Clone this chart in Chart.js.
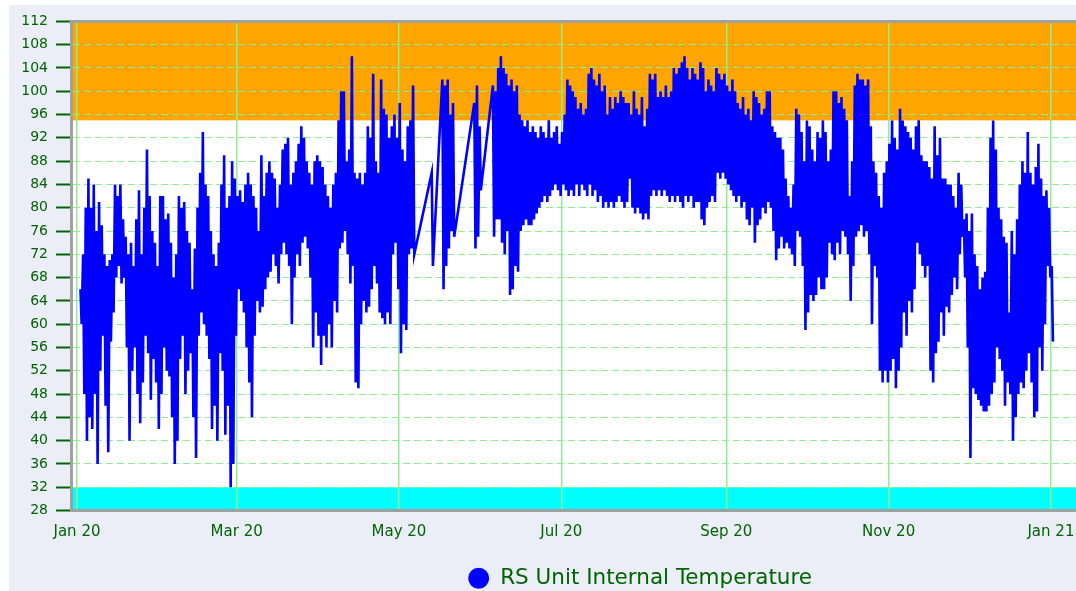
<!DOCTYPE html>
<html lang="en">
<head>
    <meta charset="UTF-8">
    <title>RS Unit Internal Temperature</title>
    <style>
        html, body { margin: 0; padding: 0; background: #fff; overflow: hidden; }
        #wrap { position: absolute; left: 9px; top: 5px; width: 1262px; height: 586px; background: #ebedf7; }
    </style>
    <script src="https://cdn.jsdelivr.net/npm/chart.js"></script>
</head>
<body>
    <div id="wrap"><canvas id="tempChart" width="1262" height="586"></canvas></div>

    <script>
        // x axis: days since 1 Jan 2020
        const tickDays = [0, 60, 121, 182, 244, 305, 366];
        const tickLabels = ['Jan 20', 'Mar 20', 'May 20', 'Jul 20', 'Sep 20', 'Nov 20', 'Jan 21'];
        const yTicks = [28, 32, 36, 40, 44, 48, 52, 56, 60, 64, 68, 72, 76, 80, 84, 88, 92, 96, 100, 104, 108, 112];

        // alarm bands
        const highBand = [95, 112];
        const lowBand = [28, 32];

        // daily max / min readings, first entry is 2 Jan 2020 (null = no data)
        const firstDay = 1;
        const dailyHigh = [
            66, 72, 80, 85, 80, 84, 76, 81, 77, 72,
            70, 71, 72, 84, 82, 84, 78, 75, 72, 74,
            70, 78, 83, 72, 80, 90, 82, 76, 74, 70,
            82, 82, 78, 79, 74, 68, 72, 82, 80, 81,
            76, 74, 66, 73, 80, 86, 93, 84, 82, 76,
            72, 70, 74, 84, 89, 80, 82, 88, 85, 82,
            83, 81, 84, 86, 84, 82, 80, 76, 89, 82,
            86, 88, 86, 85, 80, 84, 90, 91, 92, 84,
            86, 88, 91, 94, 92, 88, 86, 84, 88, 89,
            88, 87, 84, 82, 80, 84, 86, 95, 100, 100,
            88, 90, 106, 86, 85, 86, 84, 86, 94, 92,
            103, 88, 86, 102, 97, 96, 92, 94, 96, 92,
            98, 90, 88, 94, 95, 101, null, null, null, null,
            null, null, 86, null, null, null, 102, 101, 102, 96,
            98, null, null, null, null, null, null, null, 98, 101,
            94, null, null, null, null, 101, 100, 104, 106, 104,
            103, 101, 102, 100, 101, 96, 95, 94, 95, 93,
            94, 93, 92, 94, 93, 92, 95, 92, 93, 94,
            91, 93, 96, 102, 101, 100, 99, 97, 98, 96,
            97, 103, 104, 102, 101, 103, 100, 101, 96, 99,
            97, 99, 98, 100, 99, 98, 98, 96, 100, 97,
            96, 99, 94, 97, 103, 102, 103, 99, 100, 99,
            101, 99, 100, 104, 103, 104, 105, 106, 104, 102,
            104, 103, 102, 105, 104, 100, 102, 101, 100, 104,
            103, 102, 103, 101, 100, 102, 100, 98, 97, 99,
            96, 97, 95, 100, 99, 98, 96, 97, 100, 100,
            94, 93, 92, 92, 90, 85, 82, 80, 84, 97,
            96, 93, 88, 95, 94, 90, 88, 93, 92, 95,
            93, 88, 90, 100, 100, 98, 99, 97, 95, 82,
            88, 101, 103, 102, 102, 101, 102, 94, 88, 86,
            82, 80, 86, 88, 91, 95, 92, 90, 97, 95,
            94, 93, 92, 90, 94, 95, 89, 88, 88, 87,
            85, 94, 89, 92, 85, 85, 84, 84, 82, 80,
            86, 84, 78, 79, 76, 79, 72, 70, 66, 68,
            69, 80, 92, 95, 90, 80, 78, 75, 74, 62,
            76, 72, 78, 84, 88, 86, 93, 86, 84, 87,
            91, 85, 82, 83, 80, 70
        ];
        const dailyLow = [
            60, 48, 40, 44, 42, 48, 36, 52, 58, 46,
            38, 57, 62, 68, 70, 67, 68, 56, 40, 52,
            56, 48, 43, 50, 58, 55, 47, 54, 50, 42,
            48, 56, 52, 51, 44, 36, 40, 54, 58, 48,
            52, 55, 44, 37, 58, 62, 60, 58, 54, 42,
            46, 40, 55, 52, 41, 46, 32, 36, 58, 66,
            64, 62, 56, 50, 44, 58, 64, 62, 63, 66,
            68, 69, 72, 70, 67, 72, 74, 72, 70, 60,
            68, 72, 70, 74, 75, 73, 68, 56, 62, 58,
            53, 58, 56, 60, 56, 64, 62, 73, 74, 76,
            72, 67, 70, 50, 49, 60, 64, 62, 63, 66,
            70, 67, 62, 61, 60, 62, 60, 72, 74, 66,
            55, 60, 59, 72, 73, 72, null, null, null, null,
            null, null, 70, null, null, null, 66, 70, 73, 76,
            75, null, null, null, null, null, null, null, 73, 75,
            83, null, null, null, null, 75, 78, 78, 74, 72,
            76, 65, 66, 70, 69, 76, 77, 78, 77, 77,
            78, 79, 80, 81, 82, 81, 82, 83, 84, 83,
            82, 84, 83, 82, 83, 82, 84, 82, 84, 83,
            82, 84, 82, 83, 81, 82, 80, 81, 80, 81,
            80, 81, 82, 81, 80, 81, 85, 80, 79, 80,
            79, 78, 79, 78, 82, 83, 82, 83, 82, 83,
            82, 81, 82, 81, 82, 81, 80, 82, 81, 82,
            80, 81, 81, 78, 77, 80, 81, 82, 81, 86,
            85, 86, 85, 84, 83, 82, 81, 82, 80, 81,
            78, 77, 80, 74, 77, 78, 80, 79, 81, 80,
            76, 71, 73, 75, 73, 74, 73, 72, 70, 76,
            75, 70, 59, 62, 65, 64, 65, 68, 66, 66,
            68, 74, 72, 71, 74, 72, 76, 75, 72, 64,
            70, 75, 76, 77, 75, 76, 72, 60, 70, 68,
            52, 50, 52, 50, 52, 54, 49, 52, 56, 62,
            58, 64, 62, 66, 74, 72, 70, 68, 70, 52,
            50, 55, 57, 62, 58, 63, 62, 65, 68, 66,
            72, 75, 68, 56, 37, 49, 48, 47, 46, 45,
            45, 46, 48, 50, 56, 54, 52, 46, 50, 48,
            40, 44, 48, 50, 49, 52, 55, 50, 44, 45,
            56, 52, 60, 70, 68, 57
        ];

        const points = [];
        for (let i = 0; i < dailyHigh.length; i++) {
            if (dailyHigh[i] == null) continue;
            const d = firstDay + i;
            points.push({ x: d + 0.3, y: dailyHigh[i] });
            points.push({ x: d + 0.75, y: dailyLow[i] });
        }

        const bandsPlugin = {
            id: 'bands',
            beforeDraw(chart) {
                const { ctx, chartArea: a, scales: { y } } = chart;
                ctx.save();
                ctx.fillStyle = '#ffffff';
                ctx.fillRect(a.left, a.top, a.right - a.left, a.bottom - a.top);
                ctx.fillStyle = '#ffa500';
                ctx.fillRect(a.left, y.getPixelForValue(highBand[1]), a.right - a.left,
                    y.getPixelForValue(highBand[0]) - y.getPixelForValue(highBand[1]));
                ctx.fillStyle = '#00ffff';
                ctx.fillRect(a.left, y.getPixelForValue(lowBand[1]), a.right - a.left,
                    y.getPixelForValue(lowBand[0]) - y.getPixelForValue(lowBand[1]));
                ctx.restore();
            },
            afterDraw(chart) {
                const { ctx, chartArea: a } = chart;
                ctx.save();
                ctx.strokeStyle = '#a0a0a0';
                ctx.lineWidth = 3;
                ctx.beginPath();
                ctx.moveTo(a.left - 1.5, a.top);
                ctx.lineTo(a.right, a.top);
                ctx.stroke();
                ctx.restore();
            }
        };

        const green = '#006400';

        new Chart(document.getElementById('tempChart'), {
            type: 'line',
            data: {
                datasets: [{
                    label: 'RS Unit Internal Temperature',
                    data: points,
                    borderColor: '#0000ff',
                    backgroundColor: '#0000ff',
                    borderWidth: 2.6,
                    pointRadius: 0,
                    pointStyle: 'circle',
                    tension: 0,
                    fill: false
                }]
            },
            options: {
                responsive: false,
                animation: false,
                devicePixelRatio: 1,
                layout: { padding: { top: 15, right: 0, left: 0, bottom: -8 } },
                plugins: {
                    tooltip: { enabled: false },
                    legend: {
                        position: 'bottom',
                        labels: {
                            usePointStyle: true,
                            boxHeight: 13,
                            padding: 0,
                            color: green,
                            font: { family: 'DejaVu Sans', size: 21.5, lineHeight: 1 }
                        }
                    }
                },
                scales: {
                    x: {
                        type: 'linear',
                        min: -2.25,
                        max: 448.7,
                        afterFit(s) { s.height = 57; },
                        afterBuildTicks(s) { s.ticks = tickDays.map(v => ({ value: v })); },
                        ticks: {
                            autoSkip: false,
                            maxRotation: 0,
                            padding: 13,
                            color: green,
                            font: { family: 'DejaVu Sans', size: 15 },
                            callback(v) { return tickLabels[tickDays.indexOf(v)]; }
                        },
                        grid: { color: '#90ee90', lineWidth: 1.5, drawTicks: false },
                        border: { color: '#a0a0a0', width: 3 }
                    },
                    y: {
                        min: yTicks[0],
                        max: yTicks[yTicks.length - 1],
                        afterFit(s) { s.width = 62; },
                        afterBuildTicks(s) { s.ticks = yTicks.map(v => ({ value: v })); },
                        ticks: {
                            padding: 8,
                            color: green,
                            font: { family: 'DejaVu Sans', size: 14 }
                        },
                        grid: {
                            color: '#90ee90',
                            lineWidth: 1,
                            tickLength: 15,
                            tickColor: green,
                            tickWidth: 2,
                            tickBorderDash: []
                        },
                        border: { color: '#a0a0a0', width: 3, dash: [7, 4] }
                    }
                }
            },
            plugins: [bandsPlugin]
        });
    </script>
</body>
</html>
